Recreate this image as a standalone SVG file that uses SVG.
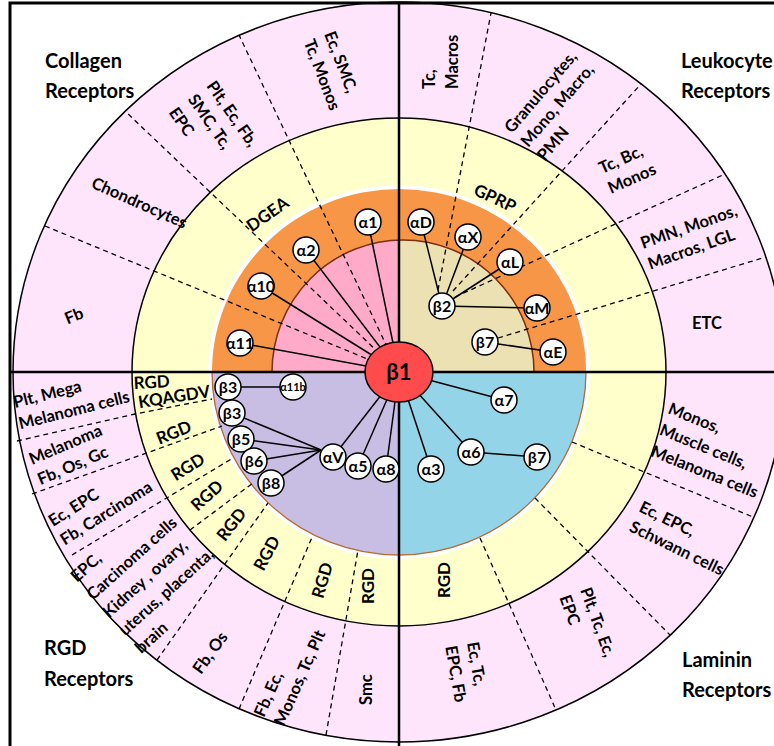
<svg xmlns="http://www.w3.org/2000/svg" width="774" height="746" viewBox="0 0 774 746">
  <style>
    text { font-family: Lato, "Liberation Sans", sans-serif; font-weight: 700; fill: #000; }
    .title { font-size: 20px; }
    .lbl { font-size: 16.5px; }
    .yl { font-size: 17px; text-anchor: middle; }
    .nd { font-size: 16px; text-anchor: middle; }
    .ndc { fill: #fff; stroke: #000; stroke-width: 1.5; }
    .dash { fill: none; stroke: #000; stroke-width: 1.3; stroke-dasharray: 5 4; }
    .conn { fill: none; stroke: #000; stroke-width: 1.5; }
    .axis { fill: none; stroke: #000; stroke-width: 2.5; }
  </style>

  <rect x="0" y="0" width="774" height="746" fill="#fff"/>

  <!-- concentric bands -->
  <g id="rings">
    <ellipse cx="399" cy="372" rx="386" ry="370" fill="#FFE5FC" stroke="#000" stroke-width="1.5"/>
    <ellipse cx="399" cy="372" rx="267" ry="254" fill="#FFFFCC" stroke="#000" stroke-width="1.5"/>
    <ellipse cx="399" cy="372" rx="189" ry="185" fill="none" stroke="#fff" stroke-width="4"/>
    <path d="M212,372 A187,183 0 0 1 586,372 Z" fill="#F79646"/>
    <path d="M399,372 H212 A187,183 0 0 0 399,555 Z" fill="#C8BEE4"/>
    <path d="M399,372 H586 A187,183 0 0 1 399,555 Z" fill="#93D4E8"/>
    <path d="M212,372 A187,183 0 0 0 586,372" fill="none" stroke="#B8692E" stroke-width="1.3"/>
    <path d="M399,372 H272 A131,132 0 0 1 399,240.06 Z" fill="#FFAAC8"/>
    <path d="M399,372 H534 A131,132 0 0 0 399,240.06 Z" fill="#ECE1B2"/>
    <path d="M272,372 A131,132 0 0 1 534,372" fill="none" stroke="#7A2E12" stroke-width="1.5"/>
  </g>

  <!-- sector dividers -->
  <g id="dividers">
    <path class="dash" d="M399,372 L45,226"/>
    <path class="dash" d="M399,372 L125,111"/>
    <path class="dash" d="M399,372 L239,35"/>
    <path class="dash" d="M438,290 L491,13"/>
    <path class="dash" d="M453,291 L641,84"/>
    <path class="dash" d="M455,297 L725,174"/>
    <path class="dash" d="M498,338 L766,257"/>
    <path class="dash" d="M17,441 L135,414 L212,399"/>
    <path class="dash" d="M32,494 L222,426"/>
    <path class="dash" d="M72,555 L233,458"/>
    <path class="dash" d="M190,530 L253,483"/>
    <path class="dash" d="M157,660 L268,503"/>
    <path class="dash" d="M239,709 L313,535"/>
    <path class="dash" d="M326,735 L358,550"/>
    <path class="dash" d="M572,442 L753,517"/>
    <path class="dash" d="M535,498 L670,635"/>
    <path class="dash" d="M480,538 L556,710"/>
  </g>

  <!-- quadrant axes and frame -->
  <g id="axes">
    <path class="axis" d="M10,372 H774"/>
    <path class="axis" d="M399,3 V746"/>
    <path fill="none" stroke="#000" stroke-width="3" d="M10,746 V3 H774"/>
  </g>

  <!-- links between subunits -->
  <g id="connectors">
    <path class="conn" d="M399,372 L368,222"/>
    <path class="conn" d="M399,372 L306,250"/>
    <path class="conn" d="M399,372 L261,286"/>
    <path class="conn" d="M399,372 L240,343"/>
    <path class="conn" d="M442,306 L421,222"/>
    <path class="conn" d="M442,306 L468,237"/>
    <path class="conn" d="M442,306 L510,262"/>
    <path class="conn" d="M442,306 L537,308"/>
    <path class="conn" d="M485,342 L553,352"/>
    <path class="conn" d="M228,387 L293,387"/>
    <path class="conn" d="M321,450 L232,413"/>
    <path class="conn" d="M321,450 L241,439"/>
    <path class="conn" d="M321,450 L254,461"/>
    <path class="conn" d="M321,450 L271,483"/>
    <path class="conn" d="M333,457 L399,372"/>
    <path class="conn" d="M358,466 L399,372"/>
    <path class="conn" d="M386,469 L399,372"/>
    <path class="conn" d="M399,372 L504,400"/>
    <path class="conn" d="M399,372 L471,452"/>
    <path class="conn" d="M471,452 L537,457"/>
    <path class="conn" d="M399,372 L431,469"/>
  </g>

  <g id="beta1">
    <ellipse cx="399" cy="372" rx="34" ry="30" fill="#FF4B4B" stroke="#000" stroke-width="1.5"/>
    <text x="399" y="380" style="font-size:22px;text-anchor:middle">β1</text>
  </g>

  <g id="alpha1" transform="translate(368,222)"><circle class="ndc" r="13"/><text class="nd" y="5.5">α1</text></g>
  <g id="alpha2" transform="translate(306,250)"><circle class="ndc" r="13"/><text class="nd" y="5.5">α2</text></g>
  <g id="alpha10" transform="translate(261,286)"><circle class="ndc" r="13"/><text class="nd" y="5.5">α10</text></g>
  <g id="alpha11" transform="translate(240,343)"><circle class="ndc" r="13"/><text class="nd" y="5.5">α11</text></g>

  <g id="alphaD" transform="translate(421,222)"><circle class="ndc" r="13"/><text class="nd" y="5.5">αD</text></g>
  <g id="alphaX" transform="translate(468,237)"><circle class="ndc" r="13"/><text class="nd" y="5.5">αX</text></g>
  <g id="alphaL" transform="translate(510,262)"><circle class="ndc" r="13"/><text class="nd" y="5.5">αL</text></g>
  <g id="alphaM" transform="translate(537,308)"><circle class="ndc" r="13"/><text class="nd" y="5.5">αM</text></g>
  <g id="beta2" transform="translate(442,306)"><circle class="ndc" r="13"/><text class="nd" y="5.5">β2</text></g>
  <g id="beta7-upper" transform="translate(485,342)"><circle class="ndc" r="13"/><text class="nd" y="5.5">β7</text></g>
  <g id="alphaE" transform="translate(553,352)"><circle class="ndc" r="13"/><text class="nd" y="5.5">αE</text></g>

  <g id="beta3-a" transform="translate(228,387)"><circle class="ndc" r="13"/><text class="nd" y="5.5">β3</text></g>
  <g id="alpha11b" transform="translate(293,387)"><circle class="ndc" r="13"/><text class="nd" y="4" style="font-size:11px">α11b</text></g>
  <g id="beta3-b" transform="translate(232,413)"><circle class="ndc" r="13"/><text class="nd" y="5.5">β3</text></g>
  <g id="beta5" transform="translate(241,439)"><circle class="ndc" r="13"/><text class="nd" y="5.5">β5</text></g>
  <g id="beta6" transform="translate(254,461)"><circle class="ndc" r="13"/><text class="nd" y="5.5">β6</text></g>
  <g id="beta8" transform="translate(271,483)"><circle class="ndc" r="13"/><text class="nd" y="5.5">β8</text></g>
  <g id="alphaV" transform="translate(333,457)"><circle class="ndc" r="13"/><text class="nd" y="5.5">αV</text></g>
  <g id="alpha5" transform="translate(358,466)"><circle class="ndc" r="13"/><text class="nd" y="5.5">α5</text></g>
  <g id="alpha8" transform="translate(386,469)"><circle class="ndc" r="13"/><text class="nd" y="5.5">α8</text></g>

  <g id="alpha7" transform="translate(504,400)"><circle class="ndc" r="13"/><text class="nd" y="5.5">α7</text></g>
  <g id="alpha6" transform="translate(471,452)"><circle class="ndc" r="13"/><text class="nd" y="5.5">α6</text></g>
  <g id="beta7-lower" transform="translate(537,457)"><circle class="ndc" r="13"/><text class="nd" y="5.5">β7</text></g>
  <g id="alpha3" transform="translate(431,469)"><circle class="ndc" r="13"/><text class="nd" y="5.5">α3</text></g>

  <!-- quadrant titles -->
  <g id="titles">
    <text class="title" x="45" y="68">Collagen</text>
    <text class="title" x="45" y="98">Receptors</text>
    <text class="title" x="681" y="68">Leukocyte</text>
    <text class="title" x="681" y="98">Receptors</text>
    <text class="title" x="682" y="667">Laminin</text>
    <text class="title" x="682" y="697">Receptors</text>
    <text class="title" x="44" y="655">RGD</text>
    <text class="title" x="44" y="686">Receptors</text>
  </g>

  <!-- cell types, outer band -->
  <g id="cell-labels">
    <text class="lbl" text-anchor="middle" transform="translate(76,321) rotate(-22)">Fb</text>
    <text class="lbl" text-anchor="middle" transform="translate(137,208) rotate(24)">Chondrocytes</text>
    <text class="lbl" transform="translate(206,86) rotate(55)"><tspan x="0" dy="0">Plt, Ec, Fb,</tspan><tspan x="0" dy="23">SMC, Tc,</tspan><tspan x="0" dy="23">EPC</tspan></text>
    <text class="lbl" transform="translate(324,34) rotate(69)"><tspan x="0" dy="0">Ec, SMC,</tspan><tspan x="0" dy="22">Tc, Monos</tspan></text>

    <text class="lbl" transform="translate(435,89) rotate(-90)"><tspan x="0" dy="0">Tc,</tspan><tspan x="0" dy="23">Macros</tspan></text>
    <text class="lbl" transform="translate(512,134) rotate(-49.5)"><tspan x="0" dy="0">Granulocytes,</tspan><tspan x="0" dy="21.5">Mono, Macro,</tspan><tspan x="0" dy="21.5">PMN</tspan></text>
    <text class="lbl" transform="translate(602,174) rotate(-24)"><tspan x="0" dy="0">Tc, Bc,</tspan><tspan x="0" dy="22">Monos</tspan></text>
    <text class="lbl" transform="translate(643,249) rotate(-19.5)"><tspan x="0" dy="0">PMN, Monos,</tspan><tspan x="0" dy="22">Macros, LGL</tspan></text>
    <text class="lbl" x="707" y="329" text-anchor="middle">ETC</text>

    <text class="lbl" transform="translate(667,413) rotate(22)"><tspan x="0" dy="0">Monos,</tspan><tspan x="0" dy="23">Muscle cells,</tspan><tspan x="0" dy="23">Melanoma cells</tspan></text>
    <text class="lbl" transform="translate(638,511) rotate(26)"><tspan x="0" dy="0">Ec, EPC,</tspan><tspan x="0" dy="22">Schwann cells</tspan></text>
    <text class="lbl" transform="translate(580,590) rotate(70)"><tspan x="0" dy="0">Plt, Tc, Ec,</tspan><tspan x="0" dy="22">EPC</tspan></text>
    <text class="lbl" transform="translate(467,643) rotate(80)"><tspan x="0" dy="0">Ec, Tc,</tspan><tspan x="0" dy="22">EPC, Fb</tspan></text>

    <text class="lbl" transform="translate(15,408) rotate(-14)"><tspan x="0" dy="0">Plt, Mega</tspan><tspan x="0" dy="22">Melanoma cells</tspan></text>
    <text class="lbl" transform="translate(32,465) rotate(-23)"><tspan x="0" dy="0">Melanoma</tspan><tspan x="0" dy="22">Fb, Os, Gc</tspan></text>
    <text class="lbl" transform="translate(53,527) rotate(-32)"><tspan x="0" dy="0">Ec, EPC</tspan><tspan x="0" dy="22">Fb, Carcinoma</tspan></text>
    <text class="lbl" transform="translate(77,583) rotate(-42)"><tspan x="0" dy="0">EPC,</tspan><tspan x="0" dy="24">Carcinoma cells</tspan><tspan x="0" dy="24">Kidney , ovary,</tspan><tspan x="0" dy="24">uterus, placenta,</tspan><tspan x="0" dy="24">brain</tspan></text>
    <text class="lbl" transform="translate(201,675) rotate(-54)">Fb, Os</text>
    <text class="lbl" transform="translate(264,718) rotate(-66)"><tspan x="0" dy="0">Fb, Ec,</tspan><tspan x="0" dy="22">Monos, Tc, Plt</tspan></text>
    <text class="lbl" transform="translate(372,705) rotate(-90)">Smc</text>
  </g>

  <!-- binding motifs, middle band -->
  <g id="motif-labels">
    <text class="yl" transform="translate(271,219) rotate(-35)">DGEA</text>
    <text class="yl" transform="translate(492.5,203.5) rotate(25)">GPRP</text>
    <text class="yl" transform="translate(152,388) rotate(-3)">RGD</text>
    <text class="yl" transform="translate(175,402.5) rotate(-9)">KQAGDV</text>
    <text class="yl" transform="translate(176,438) rotate(-22)">RGD</text>
    <text class="yl" transform="translate(191,472) rotate(-32)">RGD</text>
    <text class="yl" transform="translate(211,500) rotate(-42)">RGD</text>
    <text class="yl" transform="translate(236,528) rotate(-52)">RGD</text>
    <text class="yl" transform="translate(272,556) rotate(-62)">RGD</text>
    <text class="yl" transform="translate(328,582) rotate(-74)">RGD</text>
    <text class="yl" transform="translate(374,586) rotate(-90)">RGD</text>
    <text class="yl" transform="translate(450,580) rotate(-90)">RGD</text>
  </g>
</svg>
